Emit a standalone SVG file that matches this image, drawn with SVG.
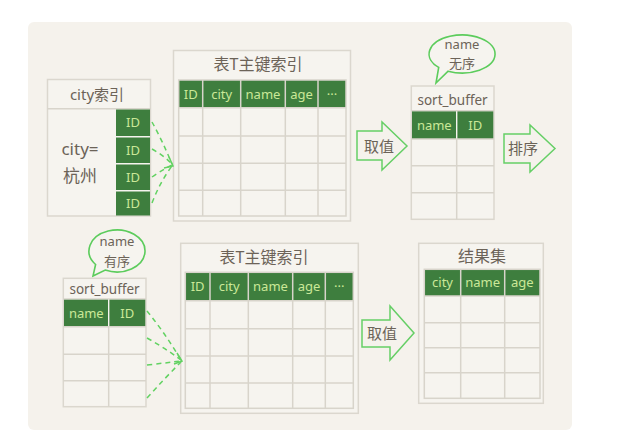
<svg xmlns="http://www.w3.org/2000/svg" width="617" height="445" viewBox="0 0 617 445">
<style>
.box{fill:#f6f4ef;stroke:#dbd7ce;stroke-width:1.5}
.grid{fill:none;stroke:#d8d4cb;stroke-width:1.5}
.hdr{fill:#3e7e3e}
.ht{font-family:"Noto Sans","Noto Sans CJK SC",sans-serif;font-size:13px;fill:#cbe898;text-anchor:middle}
.t{font-family:"Noto Sans","Noto Sans CJK SC",sans-serif;fill:#6c6358;text-anchor:middle}
.arw{fill:#f5f2ec;stroke:#66cf66;stroke-width:1.5;stroke-linejoin:miter}
.dash{fill:none;stroke:#62d262;stroke-width:1.5;stroke-dasharray:5 4}
.chev{fill:none;stroke:#62d262;stroke-width:1.5}
.bub{fill:#f6f4ef;stroke:#5ccc5c;stroke-width:1.6}
</style>
<rect x="28" y="22" width="544" height="408" rx="6" fill="#f5f2ec"/>

<g id="city-index">
<rect class="box" x="47.5" y="79.5" width="103" height="136.5"/>
<line class="grid" x1="47.5" y1="108.7" x2="150.5" y2="108.7"/>
<rect class="hdr" x="116" y="109.5" width="34" height="26.5"/>
<rect class="hdr" x="116" y="137.5" width="34" height="25.5"/>
<rect class="hdr" x="116" y="164.5" width="34" height="25.5"/>
<rect class="hdr" x="116" y="191.5" width="34" height="24"/>
<text class="ht" x="133" y="127">ID</text>
<text class="ht" x="133" y="155">ID</text>
<text class="ht" x="133" y="182">ID</text>
<text class="ht" x="133" y="208">ID</text>
<text class="t" x="97" y="100" font-size="15">city索引</text>
<text class="t" x="80" y="155" font-size="17">city=</text>
<text class="t" x="80" y="182" font-size="17">杭州</text>
</g>

<g id="table-t-top">
<rect class="box" x="173.5" y="50.5" width="177" height="170.5"/>
<text class="t" x="258" y="70" font-size="16">表T主键索引</text>
<rect class="hdr" x="178.7" y="80" width="167.3" height="27.7"/>
<g class="grid">
<rect x="178.7" y="80" width="167.3" height="136"/>
<line x1="202.7" y1="80" x2="202.7" y2="216"/>
<line x1="240.7" y1="80" x2="240.7" y2="216"/>
<line x1="285.3" y1="80" x2="285.3" y2="216"/>
<line x1="318" y1="80" x2="318" y2="216"/>
<line x1="178.7" y1="107.7" x2="346" y2="107.7"/>
<line x1="178.7" y1="136" x2="346" y2="136"/>
<line x1="178.7" y1="163.3" x2="346" y2="163.3"/>
<line x1="178.7" y1="190.3" x2="346" y2="190.3"/>
</g>
<text class="ht" x="190.7" y="98.5">ID</text>
<text class="ht" x="221.7" y="98.5">city</text>
<text class="ht" x="263" y="98.5">name</text>
<text class="ht" x="301.6" y="98.5">age</text>
<text class="ht" x="332" y="98.5">···</text>
</g>

<g id="sort-buffer-top">
<rect class="box" x="411.3" y="86" width="82.7" height="133.3"/>
<line class="grid" x1="411.3" y1="110.7" x2="494" y2="110.7"/>
<rect class="hdr" x="412" y="111.4" width="44" height="27.6"/>
<rect class="hdr" x="457.4" y="111.4" width="35.9" height="27.6"/>
<g class="grid">
<line x1="456.7" y1="139" x2="456.7" y2="219.3"/>
<line x1="411.3" y1="139" x2="494" y2="139"/>
<line x1="411.3" y1="165.7" x2="494" y2="165.7"/>
<line x1="411.3" y1="192.7" x2="494" y2="192.7"/>
</g>
<text class="t" x="452.6" y="105" font-size="13.5">sort_buffer</text>
<text class="ht" x="434.3" y="129.5">name</text>
<text class="ht" x="475.3" y="129.5">ID</text>
</g>

<g id="bubble-top">
<path class="bub" d="M438.7,67.4 L436,83 L448.1,71.2 A33,19 0 1 0 438.7,67.4 Z"/>
<text class="t" x="462" y="49" font-size="13">name</text>
<text class="t" x="462" y="68" font-size="13">无序</text>
</g>

<g id="quzhi-top">
<polygon class="arw" points="357,131 382,131 382,122 407,146 382,170 382,160 357,160"/>
<text class="t" x="379" y="151.5" font-size="15">取值</text>
</g>

<g id="paixu">
<polygon class="arw" points="504,134 530,134 530,125 555,148.5 530,172 530,163 504,163"/>
<text class="t" x="523" y="154" font-size="15">排序</text>
</g>

<g id="bubble-bottom">
<path class="bub" d="M95.6,264.5 L93,276 L105.2,270 A28,21 0 1 0 95.6,264.5 Z"/>
<text class="t" x="117" y="246" font-size="13">name</text>
<text class="t" x="117" y="266" font-size="13">有序</text>
</g>

<g id="sort-buffer-bottom">
<rect class="box" x="63.3" y="278.3" width="82.7" height="128.4"/>
<line class="grid" x1="63.3" y1="299" x2="146" y2="299"/>
<rect class="hdr" x="64" y="299.7" width="44" height="27"/>
<rect class="hdr" x="109.4" y="299.7" width="35.9" height="27"/>
<g class="grid">
<line x1="108.7" y1="326.7" x2="108.7" y2="406.7"/>
<line x1="63.3" y1="326.7" x2="146" y2="326.7"/>
<line x1="63.3" y1="354.3" x2="146" y2="354.3"/>
<line x1="63.3" y1="380.7" x2="146" y2="380.7"/>
</g>
<text class="t" x="104.6" y="293.5" font-size="13.5">sort_buffer</text>
<text class="ht" x="86.3" y="317.5">name</text>
<text class="ht" x="127.3" y="317.5">ID</text>
</g>

<g id="table-t-bottom">
<rect class="box" x="180.7" y="243.3" width="177.6" height="170"/>
<text class="t" x="264" y="263" font-size="16">表T主键索引</text>
<rect class="hdr" x="185.3" y="272.3" width="168" height="28.4"/>
<g class="grid">
<rect x="185.3" y="272.3" width="168" height="136"/>
<line x1="210" y1="272.3" x2="210" y2="408.3"/>
<line x1="248.3" y1="272.3" x2="248.3" y2="408.3"/>
<line x1="292.7" y1="272.3" x2="292.7" y2="408.3"/>
<line x1="325.3" y1="272.3" x2="325.3" y2="408.3"/>
<line x1="185.3" y1="300.7" x2="353.3" y2="300.7"/>
<line x1="185.3" y1="328.7" x2="353.3" y2="328.7"/>
<line x1="185.3" y1="356" x2="353.3" y2="356"/>
<line x1="185.3" y1="383" x2="353.3" y2="383"/>
</g>
<text class="ht" x="197.6" y="291">ID</text>
<text class="ht" x="229.2" y="291">city</text>
<text class="ht" x="270.5" y="291">name</text>
<text class="ht" x="309" y="291">age</text>
<text class="ht" x="339.3" y="291">···</text>
</g>

<g id="quzhi-bottom">
<polygon class="arw" points="362,320 390,320 390,306 414,333 390,360 390,347 362,347"/>
<text class="t" x="382" y="338.5" font-size="15">取值</text>
</g>

<g id="result-set">
<rect class="box" x="418.7" y="243.3" width="124.6" height="160"/>
<text class="t" x="482" y="262" font-size="16">结果集</text>
<rect class="hdr" x="424.3" y="269.3" width="115.7" height="26.7"/>
<g class="grid">
<rect x="424.3" y="269.3" width="115.7" height="129"/>
<line x1="460.7" y1="269.3" x2="460.7" y2="398.3"/>
<line x1="504.7" y1="269.3" x2="504.7" y2="398.3"/>
<line x1="424.3" y1="296" x2="540" y2="296"/>
<line x1="424.3" y1="322.7" x2="540" y2="322.7"/>
<line x1="424.3" y1="347.7" x2="540" y2="347.7"/>
<line x1="424.3" y1="372.7" x2="540" y2="372.7"/>
</g>
<text class="ht" x="442.5" y="287">city</text>
<text class="ht" x="482.7" y="287">name</text>
<text class="ht" x="522.3" y="287">age</text>
</g>

<g id="connectors">
<path class="dash" d="M152,122 Q162,140 172,164"/>
<path class="dash" d="M152,149 Q163,155 172,164"/>
<path class="dash" d="M152,177 Q162,170 172,165"/>
<path class="dash" d="M152,203 Q160,182 172,166"/>
<path class="chev" d="M169,157 L173,166 L164,168"/>
<path class="dash" d="M147,311 Q165,333 181,360"/>
<path class="dash" d="M147,338 Q165,348 181,360"/>
<path class="dash" d="M147,365 Q165,363 181,361"/>
<path class="dash" d="M147,398 Q165,378 181,362"/>
<path class="chev" d="M177,353 L182,361 L174,364"/>
</g>
</svg>
